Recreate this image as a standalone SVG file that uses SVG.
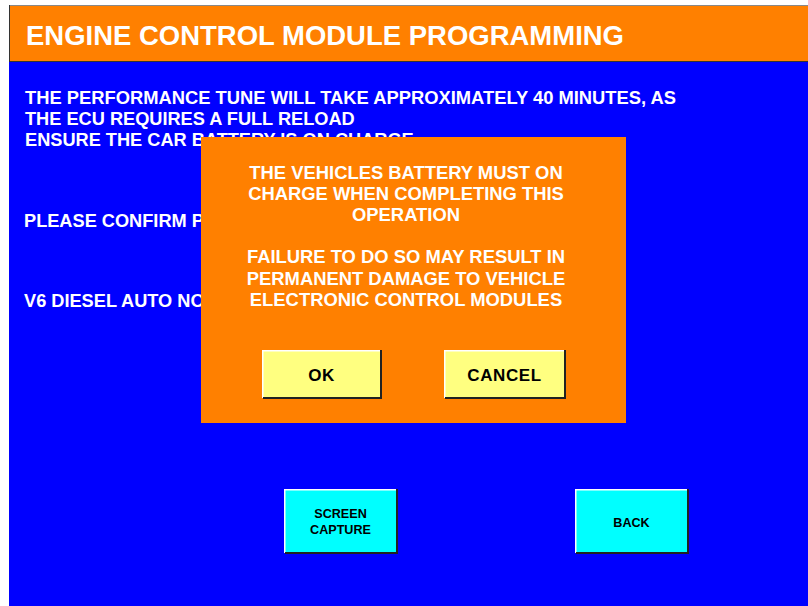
<svg xmlns="http://www.w3.org/2000/svg" width="808" height="606" viewBox="0 0 808 606">
<style>
text{font-family:"Liberation Sans",Arial,sans-serif;font-weight:bold}
.hdr{font-size:27px;fill:#fff}
.body{font-size:18.2px;fill:#fff}
.dlg{font-size:18.4px;fill:#fff;text-anchor:middle}
.btn{font-size:17px;fill:#000;text-anchor:middle;letter-spacing:0.6px}
.sbtn{font-size:12.6px;fill:#000;text-anchor:middle}
.hi{fill:none;stroke:#fff;stroke-width:1.5}
.sh{fill:none;stroke:#222;stroke-width:2}
</style>
<rect x="0" y="0" width="808" height="606" fill="#fff"/>
<g id="header">
<rect x="9" y="5" width="799" height="57" fill="#FF8000"/>
<line x1="9" y1="5.5" x2="808" y2="5.5" stroke="#888" stroke-width="1"/>
<line x1="9.5" y1="5" x2="9.5" y2="62" stroke="#333" stroke-width="1"/>
<line x1="9" y1="61.5" x2="808" y2="61.5" stroke="#333" stroke-width="1"/>
<text class="hdr" x="26" y="45" textLength="598" lengthAdjust="spacingAndGlyphs">ENGINE CONTROL MODULE PROGRAMMING</text>
</g>
<g id="screen">
<rect x="9" y="62" width="799" height="544" fill="#0000FF"/>
<text class="body" x="25" y="104" textLength="651" lengthAdjust="spacingAndGlyphs">THE PERFORMANCE TUNE WILL TAKE APPROXIMATELY 40 MINUTES, AS</text>
<text class="body" x="25" y="125">THE ECU REQUIRES A FULL RELOAD</text>
<text class="body" x="25" y="146">ENSURE THE CAR BATTERY IS ON CHARGE</text>
<text class="body" x="24" y="227">PLEASE CONFIRM P</text>
<text class="body" x="24" y="307">V6 DIESEL AUTO NO</text>
</g>
<g id="btn-screen-capture">
<rect x="284" y="489" width="113" height="64" fill="#00FFFF"/>
<polyline class="hi" points="284.75,553 284.75,489.75 397,489.75"/>
<polyline class="sh" points="285,553 397,553 397,489"/>
<text class="sbtn" x="340.5" y="518">SCREEN</text>
<text class="sbtn" x="340.5" y="534">CAPTURE</text>
</g>
<g id="btn-back">
<rect x="575" y="489" width="113" height="64" fill="#00FFFF"/>
<polyline class="hi" points="575.75,553 575.75,489.75 688,489.75"/>
<polyline class="sh" points="576,553 688,553 688,489"/>
<text class="sbtn" x="631.5" y="526.5">BACK</text>
</g>
<g id="dialog">
<rect x="201" y="137" width="425" height="286" fill="#FF8000"/>
<text class="dlg" x="406" y="179">THE VEHICLES BATTERY MUST ON</text>
<text class="dlg" x="406" y="200">CHARGE WHEN COMPLETING THIS</text>
<text class="dlg" x="406" y="221">OPERATION</text>
<text class="dlg" x="406" y="263">FAILURE TO DO SO MAY RESULT IN</text>
<text class="dlg" x="406" y="284.5">PERMANENT DAMAGE TO VEHICLE</text>
<text class="dlg" x="406" y="305.5">ELECTRONIC CONTROL MODULES</text>
</g>
<g id="btn-ok">
<rect x="262" y="350" width="119" height="48" fill="#FFFF80"/>
<polyline class="hi" points="262.75,398 262.75,350.75 381,350.75"/>
<polyline class="sh" points="263,398 381,398 381,350"/>
<text class="btn" x="321.5" y="381">OK</text>
</g>
<g id="btn-cancel">
<rect x="444" y="350" width="121" height="48" fill="#FFFF80"/>
<polyline class="hi" points="444.75,398 444.75,350.75 565,350.75"/>
<polyline class="sh" points="445,398 565,398 565,350"/>
<text class="btn" x="504.5" y="381">CANCEL</text>
</g>
</svg>
